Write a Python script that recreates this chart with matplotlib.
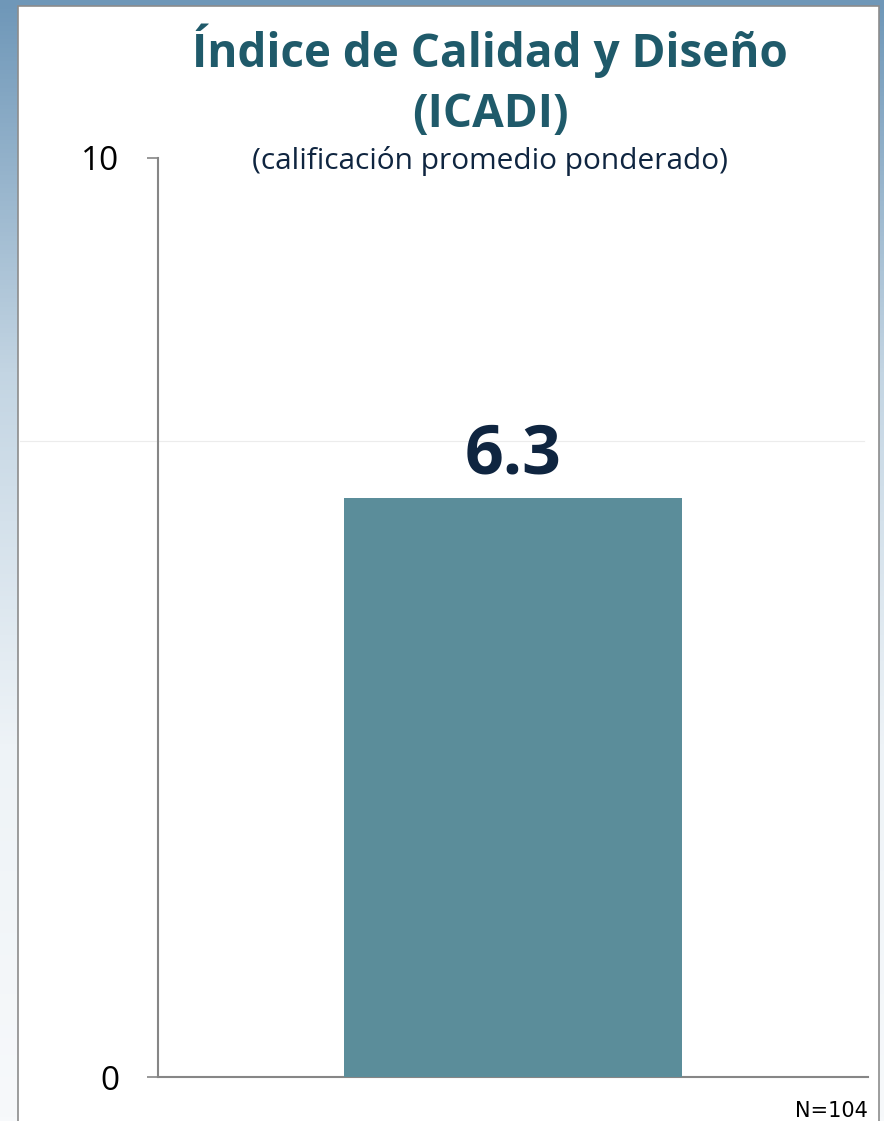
import numpy as np
import matplotlib
matplotlib.use('Agg')
import matplotlib.pyplot as plt
from matplotlib.patches import Rectangle

# data
categorias = ['ICADI']
valores = [6.3]
etiquetas = ['6.3']
y_ticks = [0, 10]
n_total = 104

titulo = 'Índice de Calidad y Diseño\n(ICADI)'
subtitulo = '(calificación promedio ponderado)'

plt.rcParams['font.family'] = ['Open Sans', 'DejaVu Sans']

fig = plt.figure(figsize=(8.84, 11.21), dpi=100)

# slide background gradient behind the white panel
bg = fig.add_axes([0, 0, 1, 1], zorder=-10)
grad = np.linspace(0, 1, 256).reshape(-1, 1)
bg.imshow(grad, aspect='auto', cmap=matplotlib.colors.LinearSegmentedColormap.from_list(
    'bg', ['#6f97b8', '#c3d5e3', '#eef3f7', '#f7f9fb']), extent=[0, 1, 0, 1])
bg.axis('off')
fig.patches.append(Rectangle((18/884, -0.01), (879-18)/884, 1 - 6/1121 + 0.01,
                             transform=fig.transFigure, facecolor='white',
                             edgecolor='#8c8c8c', linewidth=1.2, zorder=-5))
# faint line through the panel
fig.lines.append(plt.Line2D([20/884, 864/884], [1-441/1121]*2, transform=fig.transFigure,
                            color='#ececec', linewidth=0.8, zorder=-4))

ax = fig.add_axes([158/884, 1-1077/1121, (868-158)/884, (1077-158)/1121])
ax.patch.set_alpha(0)
x = np.arange(len(categorias))
bars = ax.bar(x, valores, width=0.952, color='#5b8d9a', zorder=3)
ax.set_xlim(-1, 1)
ax.set_ylim(0, 10)
ax.set_yticks(y_ticks)
ax.set_xticks([])
for s in ['top', 'right']:
    ax.spines[s].set_visible(False)
for s in ['left', 'bottom']:
    ax.spines[s].set_color('#868686')
    ax.spines[s].set_linewidth(1.5)
ax.tick_params(axis='y', length=8, width=1.2, color='#868686', pad=20,
               labelsize=24, labelcolor='black')

for b, lab in zip(bars, etiquetas):
    ax.annotate(lab, (b.get_x() + b.get_width()/2, b.get_height()),
                xytext=(0, 6), textcoords='offset points', ha='center', va='bottom',
                fontsize=49, fontweight='bold', color='#0f2540')

fig.text(490/884, 1-81/1121, titulo, ha='center', va='center', fontsize=33,
         fontweight='bold', color='#1f5a6a', linespacing=1.35)
fig.text(490/884, 1-161/1121, subtitulo, ha='center', va='center', fontsize=21.5,
         color='#0f2540')
fig.text(868/884, 1-1111/1121, 'N=%d' % n_total, ha='right', va='center', fontsize=15,
         family=['Liberation Sans Narrow', 'DejaVu Sans'], color='black')

fig.savefig('out.png', dpi=100)
